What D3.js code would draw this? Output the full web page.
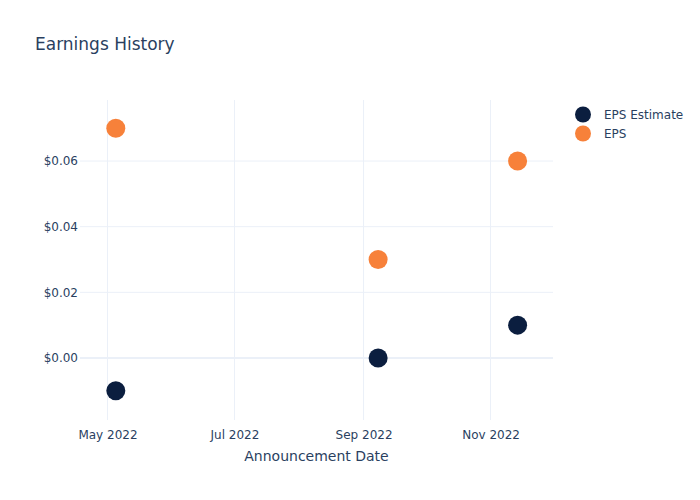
<!DOCTYPE html>
<html><head><meta charset="utf-8">
<script src="https://cdn.jsdelivr.net/npm/d3@7"></script>
<style>body{margin:0;background:#fff}svg, svg text{font-family:"DejaVu Sans",verdana,arial,sans-serif}</style>
</head><body>
<svg id="c" width="700" height="500"></svg>
<script>
const dates = ["2022-05-05", "2022-09-08", "2022-11-14"];
const epsEstimate = [-0.01, 0.00, 0.01];
const eps = [0.07, 0.03, 0.06];
const xTickLabels = ["May 2022", "Jul 2022", "Sep 2022", "Nov 2022"];
const xTickDates = ["2022-05-01", "2022-07-01", "2022-09-01", "2022-11-01"];
const yTicks = [0.00, 0.02, 0.04, 0.06];
const seriesNames = ["EPS Estimate", "EPS"];
const colors = ["#0b1e3f", "#f7813a"];

const svg = d3.select("#c");
const m = {l: 80, r: 147, t: 100, b: 80};
const W = 700, H = 500;
const parse = d3.utcParse("%Y-%m-%d");
const x = d3.scaleUtc().domain([parse("2022-04-17").getTime() + 0.8*864e5, parse("2022-12-01")].map(d=>new Date(d))).range([m.l, W - m.r]);
const y = d3.scaleLinear().domain([-0.0189, 0.0786]).range([H - m.b, m.t]);
const txt = "#2a3f5f", grid = "#ebf0f8";
const FONT = '"DejaVu Sans", verdana, arial, sans-serif';

// gridlines
svg.append("g").selectAll("line").data(xTickDates).join("line")
  .attr("x1", d => x(parse(d))).attr("x2", d => x(parse(d)))
  .attr("y1", m.t).attr("y2", H - m.b).attr("stroke", grid).attr("stroke-width", 1);
svg.append("g").selectAll("line").data(yTicks).join("line")
  .attr("x1", m.l).attr("x2", W - m.r)
  .attr("y1", d => y(d)).attr("y2", d => y(d))
  .attr("stroke", grid).attr("stroke-width", d => d === 0 ? 2 : 1);

// axes labels
const xAxis = d3.axisBottom(x).tickValues(xTickDates.map(parse))
  .tickFormat((d, i) => xTickLabels[i]).tickSize(0).tickPadding(10);
const gx = svg.append("g").attr("transform", `translate(0,${H - m.b})`).call(xAxis)
  .attr("font-family", FONT);
gx.select(".domain").remove();
gx.selectAll("text").attr("fill", txt).attr("font-size", 12).attr("dy", "0.71em");

const yAxis = d3.axisLeft(y).tickValues(yTicks).tickFormat(d => "$" + d3.format(".2f")(d)).tickSize(0).tickPadding(2);
const gy = svg.append("g").attr("transform", `translate(${m.l},0)`).call(yAxis)
  .attr("font-family", FONT);
gy.select(".domain").remove();
gy.selectAll("text").attr("fill", txt).attr("font-size", 12);

// points
const series = [epsEstimate, eps];
series.forEach((vals, si) => {
  svg.append("g").selectAll("circle").data(vals).join("circle")
    .attr("cx", (d, i) => x(parse(dates[i])))
    .attr("cy", d => y(d))
    .attr("r", 9.5)
    .attr("fill", colors[si]);
});

// title
svg.append("text").attr("x", 35).attr("y", 50).attr("fill", txt).attr("font-size", 17).text("Earnings History");
svg.append("text").attr("x", (m.l + W - m.r) / 2).attr("y", 461).attr("text-anchor", "middle")
  .attr("fill", txt).attr("font-size", 14).text("Announcement Date");

// legend
const lg = svg.append("g");
seriesNames.forEach((n, i) => {
  lg.append("circle").attr("cx", 583).attr("cy", 114.5 + i * 19).attr("r", 8).attr("fill", colors[i]);
  lg.append("text").attr("x", 604).attr("y", 114.5 + i * 19).attr("dy", "0.35em")
    .attr("fill", txt).attr("font-size", 12).text(n);
});
</script>
</body></html>
